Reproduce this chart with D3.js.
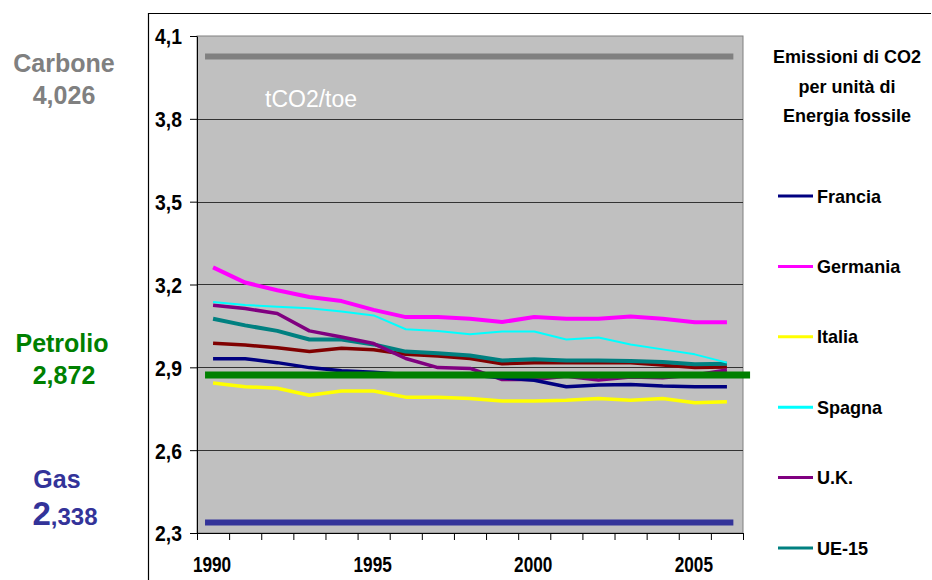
<!DOCTYPE html>
<html>
<head>
<meta charset="utf-8">
<script src="https://cdn.jsdelivr.net/npm/d3@7"></script>
<style>
  html, body { margin: 0; padding: 0; background: #fff; }
  svg { display: block; }
  .narrow { font-family: "Liberation Sans Narrow", "Arial Narrow", "Liberation Sans", Arial, sans-serif; font-weight: bold; }
  .wide { font-family: "Liberation Sans", Arial, sans-serif; font-weight: bold; }
</style>
</head>
<body>
<svg id="chart" width="932" height="580"></svg>
<script>
// Anni e tick
const years = d3.range(1990, 2007);
const yearLabels = [1990, 1995, 2000, 2005];
const yTicks = [2.3, 2.6, 2.9, 3.2, 3.5, 3.8, 4.1];

// tCO2/toe per paese
const francia  = [2.931, 2.931, 2.917, 2.899, 2.888, 2.882, 2.874, 2.868, 2.872, 2.862, 2.853, 2.830, 2.836, 2.838, 2.832, 2.830, 2.830];
const germania = [3.262, 3.207, 3.179, 3.155, 3.140, 3.108, 3.082, 3.082, 3.076, 3.064, 3.082, 3.076, 3.076, 3.084, 3.076, 3.063, 3.063];
const italia   = [2.843, 2.830, 2.824, 2.799, 2.814, 2.814, 2.792, 2.792, 2.787, 2.778, 2.778, 2.781, 2.787, 2.781, 2.787, 2.772, 2.775];
const spagna   = [3.137, 3.126, 3.119, 3.114, 3.102, 3.088, 3.038, 3.032, 3.020, 3.030, 3.030, 3.001, 3.008, 2.983, 2.965, 2.947, 2.917];
const uk       = [3.125, 3.113, 3.095, 3.032, 3.010, 2.986, 2.932, 2.899, 2.896, 2.856, 2.856, 2.868, 2.854, 2.865, 2.862, 2.872, 2.890];
const ue15     = [3.076, 3.052, 3.032, 3.001, 3.001, 2.983, 2.957, 2.951, 2.943, 2.925, 2.929, 2.925, 2.925, 2.923, 2.919, 2.911, 2.913];
const altro    = [2.987, 2.981, 2.971, 2.957, 2.969, 2.964, 2.947, 2.941, 2.932, 2.913, 2.917, 2.917, 2.917, 2.917, 2.908, 2.899, 2.901];

const seriesNames  = ["Francia", "Germania", "Italia", "Spagna", "U.K.", "UE-15"];
const seriesColors = ["#000080", "#FF00FF", "#FFFF00", "#00FFFF", "#800080", "#008080"];

// Fattori di emissione dei combustibili
const fuelNames  = ["Carbone", "Petrolio", "Gas"];
const fuelValues = [4.026, 2.872, 2.338];
const fuelLabels = ["4,026", "2,872", "2,338"];
const fuelColors = ["#808080", "#008000", "#333399"];

const svg = d3.select("#chart");
const fmt = v => d3.format(".1f")(v).replace(".", ",");

const plot = { left: 197, right: 743, top: 36, bottom: 533 };
const x = d3.scaleLinear().domain([1989.5, 2006.5]).range([plot.left, plot.right]);
const y = d3.scaleLinear().domain([2.3, 4.1]).range([plot.bottom, plot.top]);

// cornice esterna
svg.append("path")
  .attr("d", "M148.5,580 L148.5,13.5 L931,13.5")
  .attr("fill", "none").attr("stroke", "#000").attr("stroke-width", 1.2);

// area del grafico
svg.append("rect")
  .attr("x", plot.left).attr("y", plot.top)
  .attr("width", plot.right - plot.left).attr("height", plot.bottom - plot.top)
  .attr("fill", "#C0C0C0").attr("stroke", "#808080").attr("stroke-width", 1);

// griglia orizzontale
svg.append("g").selectAll("line")
  .data(yTicks.filter(t => t > 2.3 && t < 4.1))
  .join("line")
  .attr("x1", plot.left).attr("x2", plot.right)
  .attr("y1", d => Math.round(y(d)) + 0.5).attr("y2", d => Math.round(y(d)) + 0.5)
  .attr("stroke", "#333").attr("stroke-width", 1);

// asse Y
const ySX = 0.88;
const yAxis = svg.append("g")
  .attr("transform", `translate(${plot.left},0)`)
  .call(d3.axisLeft(y).tickValues(yTicks).tickFormat(fmt).tickSize(7).tickSizeOuter(0));
yAxis.select(".domain").attr("stroke", "#000");
yAxis.selectAll(".tick line").attr("stroke", "#000");
yAxis.selectAll(".tick text")
  .attr("class", "narrow").attr("font-size", 22).attr("fill", "#000")
  .attr("x", -15 / ySX).attr("dy", "0.36em")
  .attr("transform", `scale(${ySX},1)`);

// asse X (tick ai bordi delle categorie)
const xAxis = svg.append("g")
  .attr("transform", `translate(0,${plot.bottom})`)
  .call(d3.axisBottom(x).tickValues(d3.range(1989.5, 2007.5, 1)).tickFormat("").tickSize(7).tickSizeOuter(0));
xAxis.select(".domain").attr("stroke", "#000");
xAxis.selectAll(".tick line").attr("stroke", "#000");
svg.append("g").selectAll("text")
  .data(yearLabels).join("text")
  .attr("class", "narrow")
  .attr("transform", d => `translate(${x(d) - 1},572) scale(0.8,1)`)
  .attr("text-anchor", "middle").attr("font-size", 21.5).attr("fill", "#000")
  .text(d => d);

// linee di riferimento dei combustibili
const fuelSpan = [[1989.75, 2006.2], [1989.75, 2006.72], [1989.75, 2006.2]];
const fuelWidth = [6, 7, 6];
[0, 2].forEach(i => {
  svg.append("line")
    .attr("x1", x(fuelSpan[i][0])).attr("x2", x(fuelSpan[i][1]))
    .attr("y1", y(fuelValues[i])).attr("y2", y(fuelValues[i]))
    .attr("stroke", fuelColors[i]).attr("stroke-width", fuelWidth[i]);
});

svg.append("text")
  .attr("x", 265).attr("y", 107)
  .attr("font-family", "Liberation Sans, Arial, sans-serif")
  .attr("font-size", 23).attr("fill", "#fff")
  .text("tCO2/toe");

// serie
const line = d3.line().x((d, i) => x(years[i])).y(d => y(d));
const allSeries = [
  { values: altro, color: "#800000", width: 3.5 },
  { values: ue15, color: seriesColors[5], width: 4 },
  { values: uk, color: seriesColors[4], width: 3.5 },
  { values: spagna, color: seriesColors[3], width: 2 },
  { values: italia, color: seriesColors[2], width: 3.5 },
  { values: germania, color: seriesColors[1], width: 4 },
  { values: francia, color: seriesColors[0], width: 3.5 }
];
svg.append("g").selectAll("path")
  .data(allSeries).join("path")
  .attr("d", d => line(d.values))
  .attr("fill", "none")
  .attr("stroke", d => d.color)
  .attr("stroke-width", d => d.width)
  .attr("stroke-linejoin", "round");

// linea del petrolio sopra le serie
svg.append("line")
  .attr("x1", x(fuelSpan[1][0])).attr("x2", x(fuelSpan[1][1]))
  .attr("y1", y(fuelValues[1])).attr("y2", y(fuelValues[1]))
  .attr("stroke", fuelColors[1]).attr("stroke-width", fuelWidth[1]);

// etichette dei combustibili a sinistra
const fuelLabelY = [[72, 104], [352, 384], [488, 525]];
const fuelLabelX = [64, 62, 57];
fuelNames.forEach((name, i) => {
  svg.append("text").attr("class", "wide")
    .attr("x", fuelLabelX[i]).attr("y", fuelLabelY[i][0])
    .attr("text-anchor", "middle").attr("font-size", 25).attr("fill", fuelColors[i])
    .text(name);
  if (i === 2) {
    const t = svg.append("text").attr("class", "wide")
      .attr("x", 65).attr("y", fuelLabelY[i][1])
      .attr("text-anchor", "middle").attr("fill", fuelColors[i]);
    t.append("tspan").attr("font-size", 33).text(fuelLabels[i].slice(0, 1));
    t.append("tspan").attr("font-size", 24).text(fuelLabels[i].slice(1));
  } else {
    svg.append("text").attr("class", "wide")
      .attr("x", 64).attr("y", fuelLabelY[i][1])
      .attr("text-anchor", "middle").attr("font-size", 25).attr("fill", fuelColors[i])
      .text(fuelLabels[i]);
  }
});

// legenda
const titleLines = ["Emissioni di CO2", "per unità di", "Energia fossile"];
svg.append("g").selectAll("text")
  .data(titleLines).join("text")
  .attr("class", "narrow")
  .attr("x", 847).attr("y", (d, i) => 63 + i * 29.5)
  .attr("text-anchor", "middle").attr("font-size", 18).attr("fill", "#000")
  .text(d => d);

const leg = svg.append("g").selectAll("g")
  .data(seriesNames).join("g")
  .attr("transform", (d, i) => `translate(0,${196 + i * 70.4})`);
leg.append("line")
  .attr("x1", 778).attr("x2", 813).attr("y1", 0).attr("y2", 0)
  .attr("stroke", (d, i) => seriesColors[i]).attr("stroke-width", 3);
leg.append("text")
  .attr("class", "narrow")
  .attr("transform", "translate(817,6.5) scale(0.95,1)")
  .attr("font-size", 19).attr("fill", "#000")
  .text(d => d);
</script>
</body>
</html>
